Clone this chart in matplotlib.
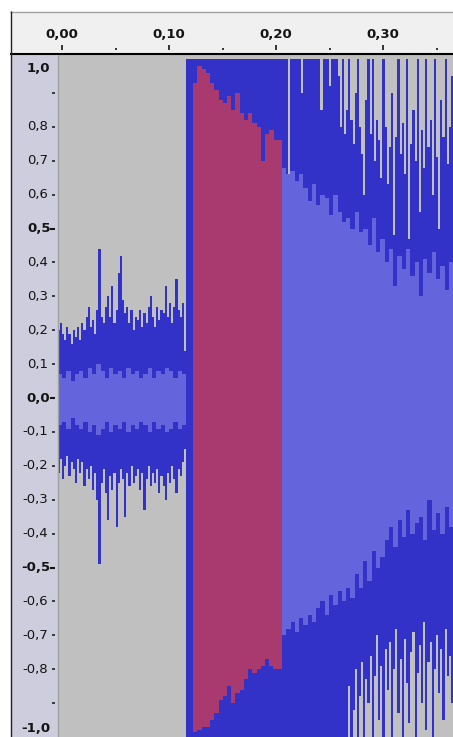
import numpy as np
import matplotlib
matplotlib.use("Agg")
import matplotlib.pyplot as plt
from matplotlib.lines import Line2D

# ---------------- data ----------------
# Segment A: quiet part, peak envelope per 2 ms, RMS per 4 ms
a_start, a_step_peak, a_step_rms = -0.004, 0.002, 0.004
a_hi = [0.20, 0.22, 0.19, 0.17, 0.21, 0.19, 0.16, 0.20, 0.18, 0.21,
        0.17, 0.22, 0.20, 0.24, 0.27, 0.21, 0.23, 0.19, 0.26, 0.44,
        0.24, 0.22, 0.27, 0.30, 0.24, 0.33, 0.22, 0.26, 0.37, 0.42,
        0.29, 0.25, 0.27, 0.22, 0.26, 0.20, 0.24, 0.23, 0.26, 0.21,
        0.25, 0.22, 0.27, 0.30, 0.24, 0.21, 0.27, 0.23, 0.26, 0.25,
        0.33, 0.24, 0.28, 0.22, 0.27, 0.35, 0.26, 0.24, 0.28, 0.14]
a_lo = [-0.22, -0.18, -0.24, -0.20, -0.17, -0.23, -0.19, -0.21, -0.25, -0.18,
        -0.22, -0.19, -0.26, -0.21, -0.24, -0.20, -0.27, -0.22, -0.30, -0.49,
        -0.25, -0.21, -0.28, -0.36, -0.23, -0.27, -0.22, -0.38, -0.25, -0.21,
        -0.24, -0.35, -0.22, -0.26, -0.20, -0.25, -0.23, -0.21, -0.27, -0.22,
        -0.33, -0.24, -0.20, -0.26, -0.22, -0.25, -0.21, -0.28, -0.23, -0.26,
        -0.30, -0.22, -0.25, -0.20, -0.24, -0.28, -0.21, -0.23, -0.19, -0.15]
a_rms_hi = [0.07, 0.06, 0.08, 0.05, 0.07, 0.08, 0.06, 0.09, 0.07, 0.10,
            0.08, 0.06, 0.09, 0.07, 0.08, 0.06, 0.09, 0.07, 0.08, 0.06,
            0.07, 0.09, 0.06, 0.08, 0.07, 0.09, 0.08, 0.06, 0.08, 0.07]
a_rms_lo = [-0.08, -0.07, -0.09, -0.06, -0.08, -0.09, -0.07, -0.10, -0.08, -0.11,
            -0.09, -0.07, -0.10, -0.08, -0.09, -0.07, -0.10, -0.08, -0.09, -0.07,
            -0.08, -0.10, -0.07, -0.09, -0.08, -0.10, -0.09, -0.07, -0.09, -0.08]

# Segment B: loud, clipped part (peaks at full scale), RMS drawn in red
b_peak_start, b_peak_end = 0.116, 0.2055
b_peak_hi, b_peak_lo = 1.0, -1.0
b_rms_start, b_rms_end = 0.1225, 0.2055
b_rms_hi = [0.93, 0.98, 0.97, 0.96, 0.93, 0.91, 0.88, 0.87, 0.89, 0.85, 0.90,
            0.84, 0.82, 0.84, 0.81, 0.80, 0.70, 0.78, 0.79, 0.76, 0.76]
b_rms_lo = [-0.985, -0.98, -0.97, -0.97, -0.95, -0.93, -0.89, -0.88, -0.85, -0.90, -0.87,
            -0.86, -0.83, -0.80, -0.81, -0.80, -0.79, -0.77, -0.79, -0.80, -0.80]

# Segment C: decaying part, peak envelope per 2 ms, RMS per 4 ms
c_start, c_step_peak, c_step_rms = 0.2055, 0.002, 0.004
c_hi = [1.00, 1.00, 1.00, 0.66, 1.00, 1.00, 1.00, 1.00, 1.00, 0.90,
        1.00, 1.00, 1.00, 1.00, 1.00, 1.00, 1.00, 1.00, 0.85, 1.00,
        1.00, 1.00, 0.92, 1.00, 1.00, 1.00,
        0.95, 0.80, 1.00, 0.78, 0.85, 1.00, 0.82, 0.75, 0.90, 1.00,
        0.80, 0.72, 0.60, 0.88, 1.00,
        0.78, 1.00, 0.70, 0.82, 0.76, 0.65, 1.00, 0.80, 0.63, 0.74,
        0.90, 0.48, 0.77, 1.00, 0.72, 0.81, 0.66, 1.00, 0.47, 0.75,
        0.85, 0.70, 1.00, 0.55, 0.79, 0.68, 1.00, 0.74, 0.82, 0.60,
        1.00, 0.71, 0.50, 0.88, 0.77, 1.00, 0.69, 0.80, 0.95]
c_lo = [-1.00, -1.00, -1.00, -1.00, -1.00, -1.00, -1.00, -1.00, -1.00, -1.00,
        -1.00, -1.00, -1.00, -1.00, -1.00, -1.00, -1.00, -1.00, -1.00, -1.00,
        -1.00, -1.00, -1.00, -1.00, -1.00, -1.00, -1.00, -1.00, -1.00, -1.00,
        -1.00, -0.85, -1.00, -0.92, -0.80, -1.00, -0.88, -0.78, -1.00, -0.83,
        -0.90, -0.76, -1.00, -0.82, -0.70, -0.95, -0.79, -1.00, -0.74, -0.86,
        -0.72, -1.00, -0.80, -0.68, -0.93, -0.77, -1.00, -0.71, -0.84, -0.96,
        -0.75, -0.69, -1.00, -0.81, -0.73, -0.90, -0.66, -0.98, -0.78, -0.72,
        -1.00, -0.80, -0.70, -0.87, -0.74, -0.95, -0.68, -0.82, -0.76, -0.90]
c_rms_hi = [0.68, 0.66, 0.67, 0.64, 0.66, 0.62, 0.58, 0.63, 0.57, 0.60,
            0.59, 0.54, 0.60, 0.55, 0.52, 0.53, 0.50, 0.55, 0.49, 0.50,
            0.45, 0.53, 0.43, 0.47, 0.40, 0.44, 0.33, 0.42, 0.38, 0.44,
            0.36, 0.40, 0.30, 0.41, 0.37, 0.43, 0.35, 0.39, 0.32, 0.40]
c_rms_lo = [-0.70, -0.68, -0.66, -0.69, -0.65, -0.67, -0.64, -0.66, -0.62, -0.60,
            -0.64, -0.58, -0.61, -0.57, -0.60, -0.56, -0.59, -0.52, -0.56, -0.48,
            -0.54, -0.45, -0.50, -0.47, -0.42, -0.38, -0.44, -0.36, -0.41, -0.33,
            -0.40, -0.37, -0.35, -0.42, -0.30, -0.39, -0.34, -0.40, -0.32, -0.38]

x_ticks_major = [0.0, 0.1, 0.2, 0.3]
x_tick_labels = ["0,00", "0,10", "0,20", "0,30"]
x_ticks_minor = [0.05, 0.15, 0.25, 0.35]
y_ticks = [0.8, 0.7, 0.6, 0.5, 0.4, 0.3, 0.2, 0.1, 0.0,
           -0.1, -0.2, -0.3, -0.4, -0.5, -0.6, -0.7, -0.8]
y_labels = ["0,8", "0,7", "0,6", "0,5", "0,4", "0,3", "0,2", "0,1", "0,0",
            "-0,1", "-0,2", "-0,3", "-0,4", "-0,5", "-0,6", "-0,7", "-0,8"]
y_bold = ["0,5", "0,0", "-0,5"]
y_small_ticks = [0.9, -0.9]

# ---------------- style ----------------
W, H = 453, 737
BG = "#c0c0c0"
DARK = "#3232c8"
LIGHT = "#6464dc"
RED = "#a83a70"
LAV = "#cdcddd"
RULER = "#f0f0f0"
TXT = "#141414"

fig = plt.figure(figsize=(W / 100, H / 100), dpi=100)
fig.patch.set_facecolor("white")

top = 55          # pixel row of the top of the waveform area
xl = (58 - 62) / 1070.0
xr = (453 - 62) / 1070.0
ylo, yhi = -1.0, 1.012

ax = fig.add_axes([58 / W, 0, (W - 58) / W, (H - top) / H])
ax.set_facecolor(BG)
ax.set_xlim(xl, xr)
ax.set_ylim(ylo, yhi)
for s in ax.spines.values():
    s.set_visible(False)
ax.set_xticks([])
ax.set_yticks([])


def bars(start, step, lo, hi, color):
    lo = np.asarray(lo, float)
    hi = np.asarray(hi, float)
    x = start + step * np.arange(len(lo))
    ax.bar(x, hi - lo, bottom=lo, width=step * 1.02, align="edge",
           color=color, linewidth=0, antialiased=False)


# segment A
bars(a_start, a_step_peak, a_lo, a_hi, DARK)
bars(a_start, a_step_rms, a_rms_lo, a_rms_hi, LIGHT)
# segment B
ax.bar([b_peak_start], [b_peak_hi - b_peak_lo], bottom=[b_peak_lo],
       width=b_peak_end - b_peak_start, align="edge", color=DARK,
       linewidth=0, antialiased=False)
b_step = (b_rms_end - b_rms_start) / len(b_rms_hi)
bars(b_rms_start, b_step, b_rms_lo, b_rms_hi, RED)
# segment C
bars(c_start, c_step_peak, c_lo, c_hi, DARK)
bars(c_start, c_step_rms, c_rms_lo, c_rms_hi, LIGHT)

# ---------------- left (amplitude) ruler ----------------
rax = fig.add_axes([11 / W, 0, 47 / W, (H - top) / H])
rax.set_facecolor(LAV)
rax.set_xlim(0, 47)
rax.set_ylim(ylo, yhi)
for s in rax.spines.values():
    s.set_visible(False)
rax.set_xticks([])
rax.set_yticks([])
for v, lab in zip(y_ticks, y_labels):
    bold = lab in y_bold
    rax.text(37.5 if not bold else 39.5, v, lab, ha="right", va="center",
             fontsize=9.5, color=TXT, fontweight="bold" if bold else "normal",
             family="DejaVu Sans")
    rax.plot([41.5, 44.5] if not bold else [39.5, 44.5], [v, v],
             color=TXT, lw=1.1 if not bold else 1.5, solid_capstyle="butt")
for v in y_small_ticks:
    rax.plot([41.5, 44.5], [v, v], color=TXT, lw=1.1, solid_capstyle="butt")
rax.text(39.5, 0.973, "1,0", ha="right", va="center", fontsize=9.5,
         fontweight="bold", color=TXT)
rax.text(39.5, -0.976, "-1,0", ha="right", va="center", fontsize=9.5,
         fontweight="bold", color=TXT)

# ---------------- top (time) ruler ----------------
tax = fig.add_axes([11 / W, (H - 53) / H, (W - 11) / W, 41 / H])
tax.set_facecolor(RULER)
tax.set_xlim((11 - 62) / 1070.0, xr)
tax.set_ylim(53, 12)
for s in tax.spines.values():
    s.set_visible(False)
tax.set_xticks([])
tax.set_yticks([])
for t, lab in zip(x_ticks_major, x_tick_labels):
    tax.text(t, 35, lab, ha="center", va="center", fontsize=9.5,
             fontweight="bold", color=TXT)
    tax.plot([t, t], [45, 50], color=TXT, lw=1.2, solid_capstyle="butt")
for t in x_ticks_minor:
    tax.plot([t, t], [48, 50], color=TXT, lw=1.2, solid_capstyle="butt")

# ---------------- frame lines ----------------
def fline(x0, y0, x1, y1, color, lw):
    fig.add_artist(Line2D([x0 / W, x1 / W], [1 - y0 / H, 1 - y1 / H],
                          transform=fig.transFigure, color=color, lw=lw,
                          solid_capstyle="butt"))

fline(10, 11.5, W, 11.5, "#a0a0a0", 1.0)
fline(10, 54, W, 54, "#000000", 1.5)
fline(10.5, 11, 10.5, H, "#202020", 1.0)
fline(57.5, 55, 57.5, H, "#a0a0a0", 1.0)

fig.savefig("out.png", dpi=100, facecolor=fig.get_facecolor())
